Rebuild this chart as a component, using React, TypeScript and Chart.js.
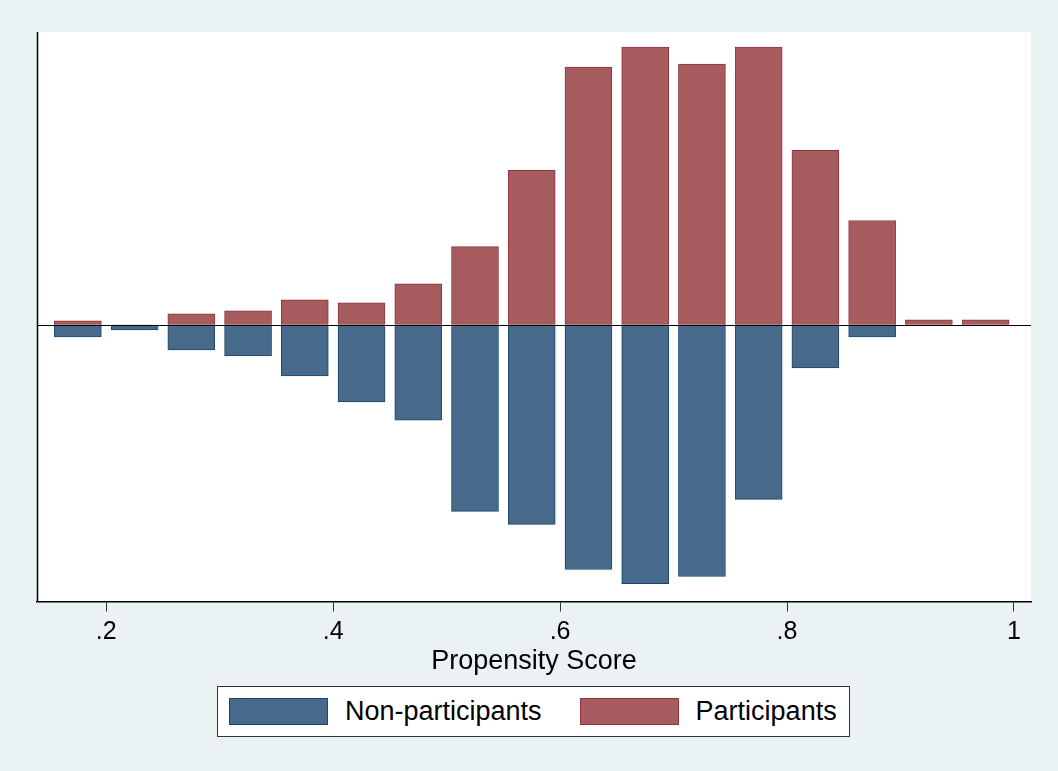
import { useEffect, useRef } from "react";
import { Chart, registerables, Plugin } from "chart.js";

Chart.register(...registerables);

// bin centres (width .05)
const binCenters = [0.175, 0.225, 0.275, 0.325, 0.375, 0.425, 0.475, 0.525, 0.575, 0.625, 0.675, 0.725, 0.775, 0.825, 0.875, 0.925, 0.975];
const participants = [4, 0, 11, 14, 25, 22, 41, 78, 154, 257, 277, 260, 277, 174, 104, 5, 5];
const nonParticipants = [12, 5, 25, 31, 51, 77, 95, 186, 199, 244, 258, 251, 174, 43, 12, 0, 0];
const xTicks = [0.2, 0.4, 0.6, 0.8, 1];

const FONT = "'Liberation Sans', Arial, sans-serif";

const backdrop: Plugin = {
  id: "backdrop",
  beforeDraw(chart) {
    const { ctx, chartArea: a, width, height } = chart;
    ctx.save();
    ctx.fillStyle = "#eaf2f3";
    ctx.fillRect(0, 0, width, height);
    ctx.fillStyle = "#ffffff";
    ctx.fillRect(a.left, a.top, a.right - a.left, a.bottom - a.top);
    ctx.restore();
  },
  afterDatasetsDraw(chart) {
    const { ctx, chartArea: a } = chart;
    const y0 = chart.scales.y.getPixelForValue(0);
    ctx.save();
    ctx.strokeStyle = "#000";
    ctx.lineWidth = 1;
    ctx.beginPath();
    ctx.moveTo(a.left, Math.round(y0) + 0.5);
    ctx.lineTo(a.right, Math.round(y0) + 0.5);
    ctx.stroke();
    ctx.lineWidth = 1.5;
    ctx.beginPath();
    ctx.moveTo(a.left + 0.5, a.top);
    ctx.lineTo(a.left + 0.5, a.bottom);
    ctx.stroke();
    ctx.restore();
  },
};

export default function App() {
  const canvasRef = useRef<HTMLCanvasElement>(null);

  useEffect(() => {
    if (!canvasRef.current) return;
    const chart = new Chart(canvasRef.current, {
      type: "bar",
      data: {
        datasets: [
          {
            label: "Participants",
            data: binCenters.map((x, i) => ({ x, y: participants[i] })),
            backgroundColor: "#a65b5f",
            borderColor: "#90353b",
            borderWidth: 1,
            barThickness: 47,
            grouped: false,
          },
          {
            label: "Non-participants",
            data: binCenters.map((x, i) => ({ x, y: -nonParticipants[i] })),
            backgroundColor: "#476a8a",
            borderColor: "#1a476f",
            borderWidth: 1,
            barThickness: 47,
            grouped: false,
          },
        ],
      },
      options: {
        animation: false,
        responsive: false,
        layout: { padding: { left: 37, top: 32, right: 27, bottom: 93 } },
        plugins: { legend: { display: false }, tooltip: { enabled: false } },
        scales: {
          x: {
            type: "linear",
            offset: false,
            min: 0.139,
            max: 1.015,
            afterBuildTicks: (s) => {
              s.ticks = xTicks.map((value) => ({ value }));
            },
            grid: { offset: false, drawOnChartArea: false, tickLength: 10, color: "#000", tickColor: "#333" },
            border: { color: "#000", width: 1.5 },
            ticks: {
              color: "#000",
              font: { family: FONT, size: 25 },
              padding: 6,
              maxRotation: 0,
              callback: (v) => {
                const n = Number(v);
                return n === 1 ? "1" : n.toFixed(1).replace(/^0/, "");
              },
            },
            title: {
              display: true,
              text: "Propensity Score",
              color: "#000",
              font: { family: FONT, size: 27 },
              padding: { top: -8, bottom: 0 },
            },
          },
          y: { display: false, min: -276, max: 292 },
        },
      },
      plugins: [backdrop],
    });
    return () => chart.destroy();
  }, []);

  const swatch = (bg: string, bd: string) => ({
    width: 99, height: 27, background: bg, border: `1px solid ${bd}`, boxSizing: "border-box" as const,
  });

  return (
    <div style={{ position: "absolute", left: 0, top: 0, width: 1058, height: 771, fontFamily: FONT }}>
      <canvas ref={canvasRef} width={1058} height={771} style={{ display: "block" }} />
      <div
        style={{
          position: "absolute", left: 217, top: 686, width: 633, height: 51, boxSizing: "border-box",
          background: "#fff", border: "1px solid #333", display: "flex", alignItems: "center",
          fontSize: 27, color: "#000",
        }}
      >
        <div style={{ ...swatch("#476a8a", "#1a476f"), marginLeft: 11 }} />
        <span style={{ marginLeft: 17 }}>Non-participants</span>
        <div style={{ ...swatch("#a65b5f", "#90353b"), marginLeft: 38 }} />
        <span style={{ marginLeft: 17 }}>Participants</span>
      </div>
    </div>
  );
}
